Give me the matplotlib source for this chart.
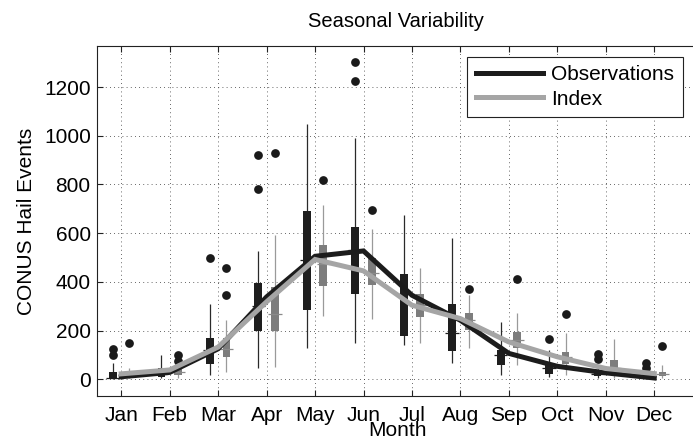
"""Seasonal cycle of CONUS hail events: observed vs index, monthly box plots + mean lines."""
import numpy as np
import matplotlib
matplotlib.use("Agg")
import matplotlib.pyplot as plt

months = ["Jan", "Feb", "Mar", "Apr", "May", "Jun", "Jul", "Aug", "Sep", "Oct", "Nov", "Dec"]

# monthly means (lines)
obs_mean = [10, 28, 125, 338, 505, 527, 345, 242, 106, 53, 26, 5]
idx_mean = [22, 38, 132, 318, 492, 445, 304, 249, 153, 92, 44, 23]

# observations box stats
obs_low = [0, 3, 16, 48, 130, 147, 140, 67, 19, 10, 3, 2]
obs_q1 = [3, 10, 64, 199, 286, 349, 177, 116, 58, 23, 12, 7]
obs_med = [5, 23, 119, 300, 489, 530, 352, 188, 99, 44, 23, 14]
obs_q3 = [30, 44, 171, 397, 692, 626, 434, 311, 122, 58, 37, 23]
obs_high = [65, 100, 311, 527, 1047, 989, 674, 582, 236, 122, 60, 30]
obs_out = [[99, 126], [], [500], [782, 922], [], [1226, 1303], [], [], [], [164], [81, 104], [46, 67]]

# index box stats
idx_low = [3, 5, 30, 51, 260, 249, 149, 130, 58, 19, 7, 7]
idx_q1 = [7, 16, 92, 199, 382, 386, 254, 204, 130, 64, 23, 12]
idx_med = [16, 30, 126, 267, 475, 437, 304, 242, 160, 92, 44, 21]
idx_q3 = [30, 40, 171, 377, 551, 500, 349, 270, 194, 112, 78, 30]
idx_high = [45, 60, 242, 592, 715, 617, 455, 345, 270, 190, 167, 58]
idx_out = [[149], [75, 100], [348, 456], [930], [818], [697], [], [369], [411], [267], [], [138]]

plt.rcParams["font.family"] = ["Liberation Sans", "DejaVu Sans"]
plt.rcParams["font.size"] = 15

W, H = 693, 437
fig = plt.figure(figsize=(W / 100, H / 100), dpi=100)
ax = fig.add_axes([97 / W, 1 - 396 / H, 605.7 / W, 350 / H])

x = np.arange(1, 13)
off = 0.17
boxw = 0.16
medw = 0.14


def draw_boxes(pos, low, q1, med, q3, high, out, box_c, wh_c, med_c):
    ax.vlines(pos, low, high, color=wh_c, lw=0.9, zorder=2)
    ax.bar(pos, np.array(q3) - np.array(q1), bottom=q1, width=boxw,
           color=box_c, edgecolor="none", zorder=3)
    ax.hlines(med, pos - medw, pos + medw, color=med_c, lw=0.9, zorder=3)
    for p, vals in zip(pos, out):
        if vals:
            ax.plot([p] * len(vals), vals, "o", color="#1a1a1a", ms=6.3, mec="none", zorder=4)


draw_boxes(x - off, obs_low, obs_q1, obs_med, obs_q3, obs_high, obs_out,
           "#1e1e1e", "#2a2a2a", "#1e1e1e")
draw_boxes(x + off, idx_low, idx_q1, idx_med, idx_q3, idx_high, idx_out,
           "#7d7d7d", "#9a9a9a", "#8a8a8a")

ax.plot(x, obs_mean, color="#1c1c1c", lw=3.6, solid_joinstyle="miter", zorder=5, label="Observations")
ax.plot(x, idx_mean, color="#a5a5a5", lw=3.6, solid_joinstyle="miter", zorder=5, label="Index")

ax.set_xlim(0.5, 13)
ax.set_ylim(-69, 1369)
ax.set_xticks(x)
ax.set_xticklabels(months)
ax.set_yticks(np.arange(0, 1201, 200))
ax.tick_params(direction="in", length=4.5, width=0.8, top=True, right=False, color="#222222")
ax.tick_params(axis="x", pad=7)
ax.tick_params(axis="y", pad=4.5)
ax.grid(True, color="#333333", linestyle=(0, (1, 4)), linewidth=0.6)
ax.set_axisbelow(True)
for s in ax.spines.values():
    s.set_linewidth(0.8)
    s.set_color("#222222")

ax.set_ylabel("CONUS Hail Events", labelpad=6)
ax.set_title("Seasonal Variability", fontsize=14.5, pad=14, x=(395.5 - 97) / 605.7)
fig.text(397 / W, 1.5 / H, "Month", ha="center", va="baseline")

leg = ax.legend(loc="upper right", bbox_to_anchor=(682.7 / W, 1 - 56.7 / H),
                bbox_transform=fig.transFigure, borderaxespad=0, fancybox=False,
                framealpha=1, edgecolor="#222222", handlelength=3.2,
                handletextpad=0.4, labelspacing=0.25, borderpad=0.42)
leg.get_frame().set_linewidth(0.8)

fig.savefig("out.png", dpi=100)
